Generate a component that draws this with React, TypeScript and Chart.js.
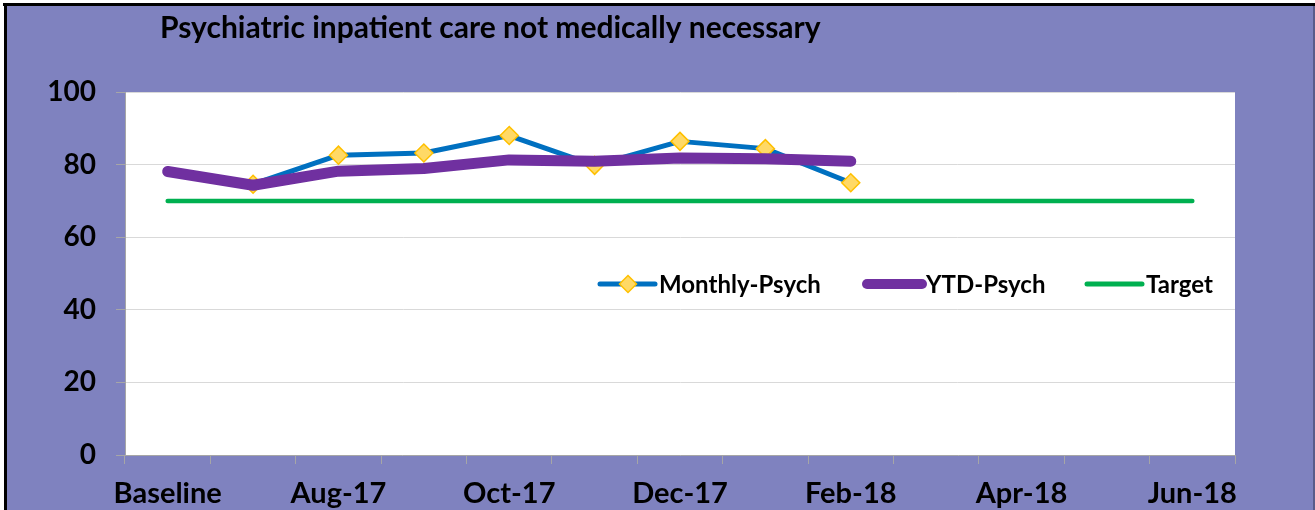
import React, { useEffect, useRef } from "react";
import { Chart, registerables } from "chart.js";

Chart.register(...registerables);

// ---------- data ----------
const chartTitle = "Psychiatric inpatient care not medically necessary";
const categories = [
  "Baseline", "Jul-17", "Aug-17", "Sep-17", "Oct-17", "Nov-17", "Dec-17",
  "Jan-18", "Feb-18", "Mar-18", "Apr-18", "May-18", "Jun-18",
];
const monthlyPsych: (number | null)[] = [null, 74.6, 82.6, 83.2, 88.0, 79.8, 86.4, 84.4, 75.0, null, null, null, null];
const ytdPsych: (number | null)[] = [78.1, 74.3, 78.2, 78.9, 81.3, 80.9, 81.8, 81.6, 80.9, null, null, null, null];
const targetValues: number[] = [70, 70, 70, 70, 70, 70, 70, 70, 70, 70, 70, 70, 70];
const seriesNames = ["Monthly-Psych", "YTD-Psych", "Target"];
const yMin = 0;
const yMax = 100;
const yStep = 20;

// ---------- style ----------
const FONT = "Lato";
const BG = "#7F82BF";
const BLUE = "#0070C0";
const PURPLE = "#7030A0";
const GREEN = "#00B050";
const MARK_FILL = "#FFD966";
const MARK_LINE = "#FFC000";

const frame = {
  id: "frame",
  beforeDraw(chart: any) {
    const ctx = chart.ctx;
    const w = chart.width;
    const h = chart.height;
    ctx.save();
    ctx.fillStyle = "#ffffff";
    ctx.fillRect(0, 0, w, h);
    ctx.fillStyle = BG;
    ctx.fillRect(6, 6, w - 6, h - 6);
    ctx.fillStyle = "#000000";
    ctx.fillRect(3, 3, w - 3, 3);
    ctx.fillRect(4, 3, 3, h - 3);
    ctx.fillStyle = "#5A5C8A";
    ctx.fillRect(w - 2, 6, 2, h - 6);
    // plot area
    const a = chart.chartArea;
    ctx.fillStyle = "#ffffff";
    ctx.fillRect(a.left, a.top, a.right - a.left, a.bottom - a.top);
    ctx.restore();
  },
  afterDraw(chart: any) {
    const ctx = chart.ctx;
    const a = chart.chartArea;
    ctx.save();
    // title
    ctx.fillStyle = "#000000";
    ctx.font = `bold 30px ${FONT}`;
    ctx.textAlign = "left";
    ctx.textBaseline = "alphabetic";
    ctx.fillText(chartTitle, 160, 38);

    // legend
    const ly = 284;
    const items = [
      { x: 600, color: BLUE, lw: 5, marker: true },
      { x: 867, color: PURPLE, lw: 10, marker: false },
      { x: 1087, color: GREEN, lw: 5, marker: false },
    ];
    ctx.font = `bold 24px ${FONT}`;
    ctx.textBaseline = "middle";
    items.forEach((it, i) => {
      const x0 = it.x - 125 + a.left;
      ctx.strokeStyle = it.color;
      ctx.lineWidth = it.lw;
      ctx.lineCap = "round";
      ctx.beginPath();
      ctx.moveTo(x0, ly);
      ctx.lineTo(x0 + 55, ly);
      ctx.stroke();
      if (it.marker) {
        const cx = x0 + 28;
        const r = 8.5;
        ctx.beginPath();
        ctx.moveTo(cx, ly - r);
        ctx.lineTo(cx + r, ly);
        ctx.lineTo(cx, ly + r);
        ctx.lineTo(cx - r, ly);
        ctx.closePath();
        ctx.fillStyle = MARK_FILL;
        ctx.fill();
        ctx.strokeStyle = MARK_LINE;
        ctx.lineWidth = 1.5;
        ctx.stroke();
      }
      ctx.fillStyle = "#000000";
      ctx.fillText(seriesNames[i], x0 + 59, ly + 1);
    });
    ctx.restore();
  },
};

export default function App() {
  const ref = useRef<HTMLCanvasElement>(null);
  useEffect(() => {
    document.body.style.margin = "0";
    const canvas = ref.current!;
    const chart = new Chart(canvas, {
      type: "line",
      data: {
        labels: categories,
        datasets: [
          {
            label: seriesNames[0],
            data: monthlyPsych,
            borderColor: BLUE,
            borderWidth: 5,
            borderCapStyle: "round",
            borderJoinStyle: "round",
            pointStyle: "rectRot",
            pointRadius: 9,
            pointBackgroundColor: MARK_FILL,
            pointBorderColor: MARK_LINE,
            pointBorderWidth: 1.5,
            tension: 0,
            order: 2,
          },
          {
            label: seriesNames[1],
            data: ytdPsych,
            borderColor: PURPLE,
            borderWidth: 11,
            borderCapStyle: "round",
            borderJoinStyle: "round",
            pointRadius: 0,
            tension: 0,
            order: 1,
          },
          {
            label: seriesNames[2],
            data: targetValues,
            borderColor: GREEN,
            borderWidth: 4.5,
            borderCapStyle: "round",
            borderJoinStyle: "round",
            pointRadius: 0,
            tension: 0,
            order: 3,
          },
        ],
      },
      options: {
        responsive: false,
        devicePixelRatio: 1,
        animation: false,
        events: [],
        layout: { padding: { left: 0, right: 80, top: 92, bottom: 0 } },
        plugins: {
          legend: { display: false },
          title: { display: false },
          tooltip: { enabled: false },
        },
        scales: {
          x: {
            type: "category",
            offset: true,
            grid: {
              offset: true,
              drawOnChartArea: false,
              drawTicks: true,
              tickLength: 9,
              color: "#A6A6A6",
              lineWidth: 1,
            },
            border: { display: true, color: "#A6A6A6", width: 1 },
            ticks: {
              autoSkip: false,
              maxRotation: 0,
              minRotation: 0,
              padding: 12,
              color: "#000000",
              font: { family: FONT, size: 29, weight: "bold" },
              callback: (_v: any, i: number) => (i % 2 === 0 ? categories[i] : ""),
            },
            afterFit: (s: any) => {
              s.height = 55;
            },
          },
          y: {
            min: yMin,
            max: yMax,
            ticks: {
              stepSize: yStep,
              padding: 20,
              color: "#000000",
              font: { family: FONT, size: 28, weight: "bold" },
            },
            grid: {
              color: "#D9D9D9",
              lineWidth: 1,
              drawTicks: true,
              tickLength: 9,
              tickColor: "#A6A6A6",
            },
            border: { display: true, color: "#A6A6A6", width: 1 },
            afterFit: (s: any) => {
              s.width = 125;
            },
          },
        },
      },
      plugins: [frame],
    });
    return () => chart.destroy();
  }, []);
  return (
    <div style={{ width: 1315, height: 510 }}>
      <canvas ref={ref} width={1315} height={510} style={{ display: "block", width: 1315, height: 510 }} />
    </div>
  );
}
